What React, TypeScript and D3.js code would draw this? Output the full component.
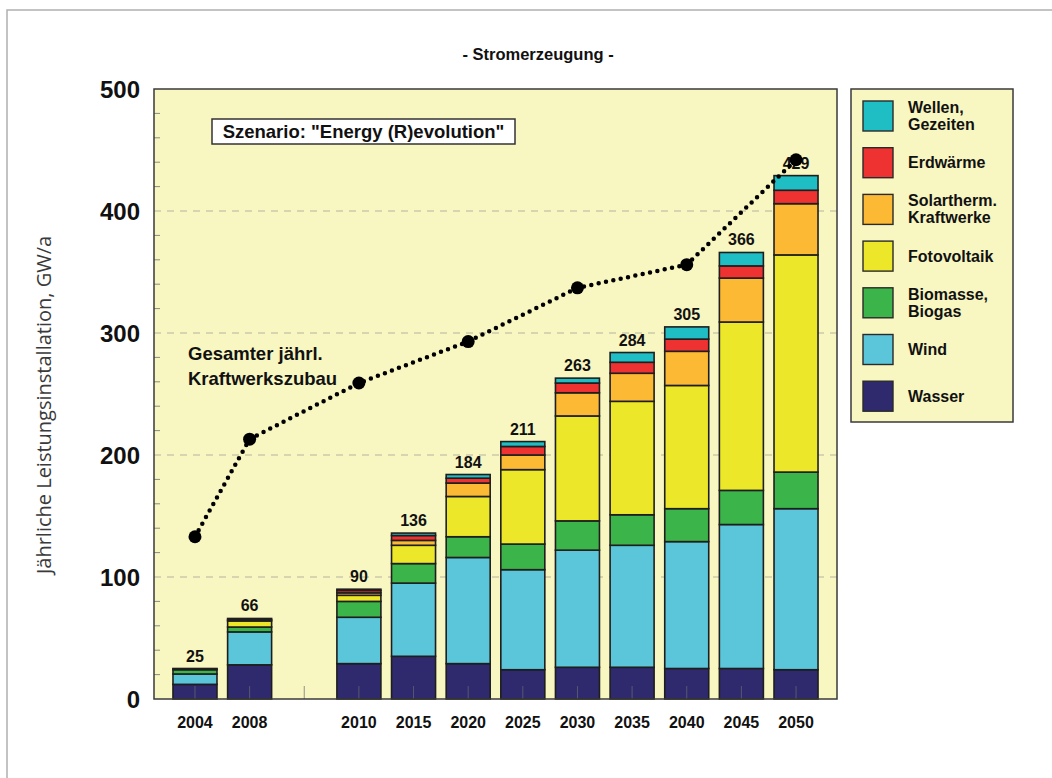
import React from "react";
import * as d3 from "d3";

// Slot order along the x axis; "gap" leaves an empty slot between 2008 and 2010
const slots = ["2004", "2008", "gap", "2010", "2015", "2020", "2025", "2030", "2035", "2040", "2045", "2050"];
const years = ["2004", "2008", "2010", "2015", "2020", "2025", "2030", "2035", "2040", "2045", "2050"];

// Annual capacity additions by source, GW/a
const wasser = [12, 28, 29, 35, 29, 24, 26, 26, 25, 25, 24];
const wind = [8.5, 27, 38, 60, 87, 82, 96, 100, 104, 118, 132];
const biomasse = [3.5, 4, 13, 16, 17, 21, 24, 25, 27, 28, 30];
const fotovoltaik = [0.5, 5, 5, 15, 33, 61, 86, 93, 101, 138, 178];
const solartherm = [0, 1, 2, 4, 11, 12, 19, 23, 28, 36, 42];
const erdwaerme = [0.5, 1, 2, 4, 4, 7, 8, 9, 10, 10, 11];
const wellen = [0, 0, 1, 2, 3, 4, 4, 8, 10, 11, 12];

// Total annual power plant additions (dotted line)
const zubauYears = ["2004", "2008", "2010", "2020", "2030", "2040", "2050"];
const zubau = [133, 213, 259, 293, 337, 356, 442];

const yTicks = [0, 100, 200, 300, 400, 500];

const series = [
  { key: "wasser", label: ["Wasser"], color: "#2f2a6e", values: wasser },
  { key: "wind", label: ["Wind"], color: "#5bc6da", values: wind },
  { key: "biomasse", label: ["Biomasse,", "Biogas"], color: "#3bb54a", values: biomasse },
  { key: "fotovoltaik", label: ["Fotovoltaik"], color: "#ece829", values: fotovoltaik },
  { key: "solartherm", label: ["Solartherm.", "Kraftwerke"], color: "#fcb934", values: solartherm },
  { key: "erdwaerme", label: ["Erdwärme"], color: "#ee3131", values: erdwaerme },
  { key: "wellen", label: ["Wellen,", "Gezeiten"], color: "#1fbec4", values: wellen },
];

const W = 1052;
const H = 778;
const plot = { left: 154, right: 837, top: 89, bottom: 699 };
const bg = "#f8f6c1";
const font = "'Liberation Sans', Arial, Helvetica, sans-serif";

export default function App() {
  const x = d3.scalePoint<string>().domain(slots).range([plot.left, plot.right]).padding(0.75);
  const y = d3.scaleLinear().domain([0, 500]).range([plot.bottom, plot.top]);
  const barW = 44;

  const rows = years.map((yr, i) => {
    const r: Record<string, any> = { year: yr };
    series.forEach((s) => (r[s.key] = s.values[i]));
    return r;
  });
  const stack = d3.stack<any>().keys(series.map((s) => s.key));
  const layers = stack(rows);
  const totals = years.map((_, i) => d3.sum(series, (s) => s.values[i]));

  const minorTicks = d3.range(0, 501, 20).filter((v) => v % 100 !== 0);

  const linePts: [number, number][] = zubauYears.map((yr, i) => [x(yr)!, y(zubau[i])]);
  const line = d3.line();

  const legend = { x: 851, y: 89, w: 162, h: 333 };
  const legendItems = [...series].reverse();

  return (
    <svg width={W} height={H} style={{ position: "absolute", left: 0, top: 0, background: "#fff" }}>
      {/* outer frame */}
      <rect x={7} y={10} width={1200} height={900} fill="none" stroke="#b0b0b0" strokeWidth={1.5} />

      <text x={538} y={60} textAnchor="middle" fontFamily={font} fontWeight="bold" fontSize={16.5} fill="#111">
        - Stromerzeugung -
      </text>

      {/* plot area */}
      <rect x={plot.left} y={plot.top} width={plot.right - plot.left} height={plot.bottom - plot.top} fill={bg} />

      {/* dashed grid */}
      {yTicks.filter((v) => v > 0 && v < 500).map((v) => (
        <line key={v} x1={plot.left} x2={plot.right} y1={y(v)} y2={y(v)} stroke="#b5b3a0" strokeWidth={1.2} strokeDasharray="7,6" />
      ))}
      {/* minor ticks on left axis */}
      {minorTicks.map((v) => (
        <line key={v} x1={plot.left} x2={plot.left + 6} y1={y(v)} y2={y(v)} stroke="#8a8a80" strokeWidth={1} />
      ))}

      {/* stacked bars */}
      {layers.map((layer, li) => (
        <g key={layer.key}>
          {layer.map((d, i) => {
            const h = y(d[0]) - y(d[1]);
            if (h <= 0) return null;
            return (
              <rect
                key={i}
                x={x(years[i])! - barW / 2}
                y={y(d[1])}
                width={barW}
                height={h}
                fill={series[li].color}
                stroke="#1e1e1e"
                strokeWidth={1.6}
              />
            );
          })}
        </g>
      ))}

      {/* bottom ticks at slot centres */}
      {slots.map((s) => (
        <line key={s} x1={x(s)!} x2={x(s)!} y1={plot.bottom} y2={plot.bottom - 13} stroke="#6a6a70" strokeWidth={1} opacity={0.7} />
      ))}

      {/* plot frame */}
      <rect x={plot.left} y={plot.top} width={plot.right - plot.left} height={plot.bottom - plot.top} fill="none" stroke="#3a3a3a" strokeWidth={1.5} />

      {/* totals above bars */}
      {years.map((yr, i) => (
        <text key={yr} x={x(yr)!} y={y(totals[i]) - 7} textAnchor="middle" fontFamily={font} fontWeight="bold" fontSize={16} fill="#111">
          {String(Math.round(totals[i]))}
        </text>
      ))}

      {/* x labels */}
      {years.map((yr) => (
        <text key={yr} x={x(yr)!} y={728} textAnchor="middle" fontFamily={font} fontWeight="bold" fontSize={16} fill="#111">
          {yr}
        </text>
      ))}

      {/* y labels */}
      {yTicks.map((v) => (
        <text key={v} x={140} y={y(v) + 8.5} textAnchor="end" fontFamily={font} fontWeight="bold" fontSize={24} fill="#111">
          {v}
        </text>
      ))}

      <text
        transform={`translate(51,405) rotate(-90)`}
        textAnchor="middle"
        fontFamily="'Open Sans', sans-serif"
        fontSize={20}
        fill="#3a3a3a"
      >
        Jährliche Leistungsinstallation, GW/a
      </text>

      {/* total additions line */}
      <path d={line(linePts) || ""} fill="none" stroke="#000" strokeWidth={4.5} strokeLinecap="round" strokeDasharray="0,7.5" />
      {linePts.map((p, i) => (
        <circle key={i} cx={p[0]} cy={p[1]} r={6.5} fill="#000" />
      ))}

      <text fontFamily={font} fontWeight="bold" fontSize={18.5} fill="#111">
        <tspan x={188} y={360}>Gesamter jährl.</tspan>
        <tspan x={188} y={385}>Kraftwerkszubau</tspan>
      </text>

      {/* scenario box */}
      <rect x={212} y={119} width={303} height={25} fill="#fff" stroke="#333" strokeWidth={1.5} />
      <text x={363.5} y={138} textAnchor="middle" fontFamily={font} fontWeight="bold" fontSize={18.5} fill="#111">
        Szenario: "Energy (R)evolution"
      </text>

      {/* legend */}
      <rect x={legend.x} y={legend.y} width={legend.w} height={legend.h} fill={bg} stroke="#3a3a3a" strokeWidth={1.5} />
      {legendItems.map((s, i) => {
        const top = 101 + i * 46.7;
        const cy = top + 15;
        return (
          <g key={s.key}>
            <rect x={863} y={top} width={30} height={30} fill={s.color} stroke="#2a2a2a" strokeWidth={1.4} />
            {s.label.length === 1 ? (
              <text x={908} y={cy + 5.5} fontFamily={font} fontWeight="bold" fontSize={16} fill="#111">
                {s.label[0]}
              </text>
            ) : (
              <text fontFamily={font} fontWeight="bold" fontSize={16} fill="#111">
                <tspan x={908} y={cy - 3}>{s.label[0]}</tspan>
                <tspan x={908} y={cy + 14}>{s.label[1]}</tspan>
              </text>
            )}
          </g>
        );
      })}
    </svg>
  );
}
